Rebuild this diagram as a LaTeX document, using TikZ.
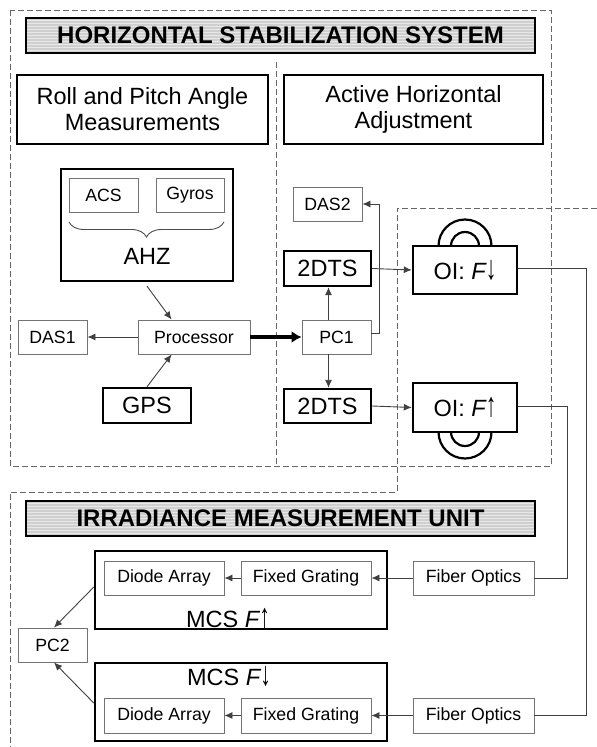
\documentclass[tikz,border=0pt]{standalone}
\usepackage{fontspec}
\setmainfont{Liberation Sans}
\usetikzlibrary{arrows.meta,decorations.pathreplacing,patterns,calc}
\newcommand\smf{\fontsize{17.7}{20}\selectfont}
\newcommand\bgf{\fontsize{23.5}{26}\selectfont}
\newcommand\dnarr{\scalebox{0.9}[1.45]{↓}}
\newcommand\uparr{\scalebox{0.9}[1.45]{↑}}
\tikzset{
  thinbox/.style={draw=black!55,line width=0.9pt,inner sep=0pt,font=\smf},
  thickbox/.style={draw=black,line width=2.4pt,inner sep=0pt,font=\bgf},
  titlebox/.style={draw=black,line width=2.4pt,inner sep=0pt,preaction={fill=black!19},pattern=horizontal lines,pattern color=black!9,font=\fontsize{24}{26}\selectfont\bfseries},
  dashline/.style={draw=black!60,line width=0.9pt,dash pattern=on 6pt off 3pt},
  conn/.style={draw=black!75,line width=0.9pt},
  arr/.style={conn,-{Latex[length=8pt,width=7pt]}},
  arch/.style={draw=black,line width=2.2pt}
}
\begin{document}
\begin{tikzpicture}[x=1pt,y=-1pt]
\useasboundingbox (0,0) rectangle (597,747);
% dashed regions
\draw[dashline] (10,10) rectangle (551,466);
\draw[dashline] (276,62) -- (276,466);
\draw[dashline] (597,208) -- (397,208) -- (397,492) -- (10,492) -- (10,747);
% titles
\node[titlebox,minimum width=509pt,minimum height=35pt] (title1) at (280.5,35.5) {HORIZONTAL STABILIZATION SYSTEM};
\node[titlebox,minimum width=509pt,minimum height=35pt] (title2) at (280.5,518.5) {IRRADIANCE MEASUREMENT UNIT};
% section heads
\node[thickbox,minimum width=251pt,minimum height=69pt,align=center] (rp) at (142.5,109.5) {Roll and Pitch Angle\\Measurements};
\node[thickbox,minimum width=259pt,minimum height=69pt,align=center] (aha) at (413.5,109.5) {Active Horizontal\\Adjustment};
% AHZ
\node[thickbox,minimum width=172pt,minimum height=112pt] (ahz) at (147,225) {};
\node[font=\bgf,inner sep=0pt] (ahzlabel) at (147,256) {AHZ};
\node[thinbox,minimum width=69pt,minimum height=34pt] (acs) at (103.5,195) {ACS};
\node[thinbox,minimum width=68pt,minimum height=34pt] (gyros) at (190,195) {Gyros};
\coordinate (b1) at (69,222);
\coordinate (b2) at (224,222);
\draw[draw=black!70,line width=0.9pt,decorate,decoration={brace,mirror,amplitude=15pt}] (b1) -- (b2);
% left part
\node[thinbox,minimum width=112pt,minimum height=34pt] (proc) at (194,337) {Processor};
\node[thinbox,minimum width=69pt,minimum height=34pt] (das1) at (52.5,337) {DAS1};
\node[thickbox,minimum width=88pt,minimum height=35pt] (gps) at (147,405.5) {GPS};
% right part
\node[thinbox,minimum width=69pt,minimum height=34pt] (pc1) at (336.5,337) {PC1};
\node[thickbox,minimum width=87pt,minimum height=35pt] (dts1) at (327.5,268.5) {2DTS};
\node[thickbox,minimum width=87pt,minimum height=34pt] (dts2) at (327.5,406) {2DTS};
\node[thinbox,minimum width=69pt,minimum height=34pt] (das2) at (327.5,204) {DAS2};
\node[thickbox,minimum width=104pt,minimum height=48pt] (oi1) at (465,270) {OI: {\itshape F}\dnarr};
\node[thickbox,minimum width=104pt,minimum height=49pt] (oi2) at (465,407.5) {OI: {\itshape F}\uparr};
% arches
\draw[arch] (438.5,246) arc[start angle=180,end angle=360,radius=26.5];
\draw[arch] (451,246) arc[start angle=180,end angle=360,radius=14];
\draw[arch] (438.5,432) arc[start angle=180,end angle=0,radius=26.5];
\draw[arch] (451,432) arc[start angle=180,end angle=0,radius=14];
% irradiance unit
\node[thickbox,minimum width=292pt,minimum height=78pt] (mcs1) at (241,590) {};
\node[thickbox,minimum width=292pt,minimum height=78pt] (mcs2) at (241,702) {};
\node[font=\bgf,inner sep=0pt,anchor=base] (mcs1l) at (228,627) {MCS {\itshape F}\uparr};
\node[font=\bgf,inner sep=0pt,anchor=base] (mcs2l) at (229,685) {MCS {\itshape F}\dnarr};
\node[thinbox,minimum width=120pt,minimum height=34pt] (da1) at (164,578) {Diode Array};
\node[thinbox,minimum width=130pt,minimum height=34pt] (fg1) at (306,578) {Fixed Grating};
\node[thinbox,minimum width=121pt,minimum height=34pt] (fo1) at (473.5,578) {Fiber Optics};
\node[thinbox,minimum width=120pt,minimum height=35pt] (da2) at (164,715.5) {Diode Array};
\node[thinbox,minimum width=130pt,minimum height=35pt] (fg2) at (306,715.5) {Fixed Grating};
\node[thinbox,minimum width=121pt,minimum height=35pt] (fo2) at (473.5,715.5) {Fiber Optics};
\node[thinbox,minimum width=69pt,minimum height=34pt] (pc2) at (52.5,645) {PC2};
% connectors
\draw[arr] ($(ahz.south)+(0,4)$) -- ($(proc.north west)+(34,0)$);
\draw[arr] (gps.north) -- ($(proc.south west)+(34,0)$);
\draw[arr] (proc.west) -- (das1.east);
\draw[draw=black,line width=4pt,-{Latex[length=10pt,width=12pt]}] (proc.east) -- (pc1.west);
\draw[arr] ($(pc1.north)+(-8,0)$) -- ($(dts1.south)+(1,0)$);
\draw[arr] ($(pc1.south)+(-8,0)$) -- ($(dts2.north)+(1,0)$);
\draw[arr] ($(pc1.east)+(0,-4)$) -| (379,204) -- (das2.east);
\draw[arr] (dts1.east) -- (oi1.west);
\draw[arr] (dts2.east) -- (oi2.west);
\draw[conn] ($(oi1.east)+(0,-2)$) -| (586,715.5) -- (fo2.east);
\draw[conn] ($(oi2.east)+(0,-1.5)$) -| (567,578) -- (fo1.east);
\draw[arr] (fo1.west) -- (fg1.east);
\draw[arr] (fg1.west) -- (da1.east);
\draw[arr] (fo2.west) -- (fg2.east);
\draw[arr] (fg2.west) -- (da2.east);
\draw[arr] ($(mcs1.west)+(0,-3)$) -- ($(pc2.north)+(1.5,0)$);
\draw[arr] ($(mcs2.west)+(0,1)$) -- ($(pc2.south)+(1.5,0)$);
\end{tikzpicture}
\end{document}
